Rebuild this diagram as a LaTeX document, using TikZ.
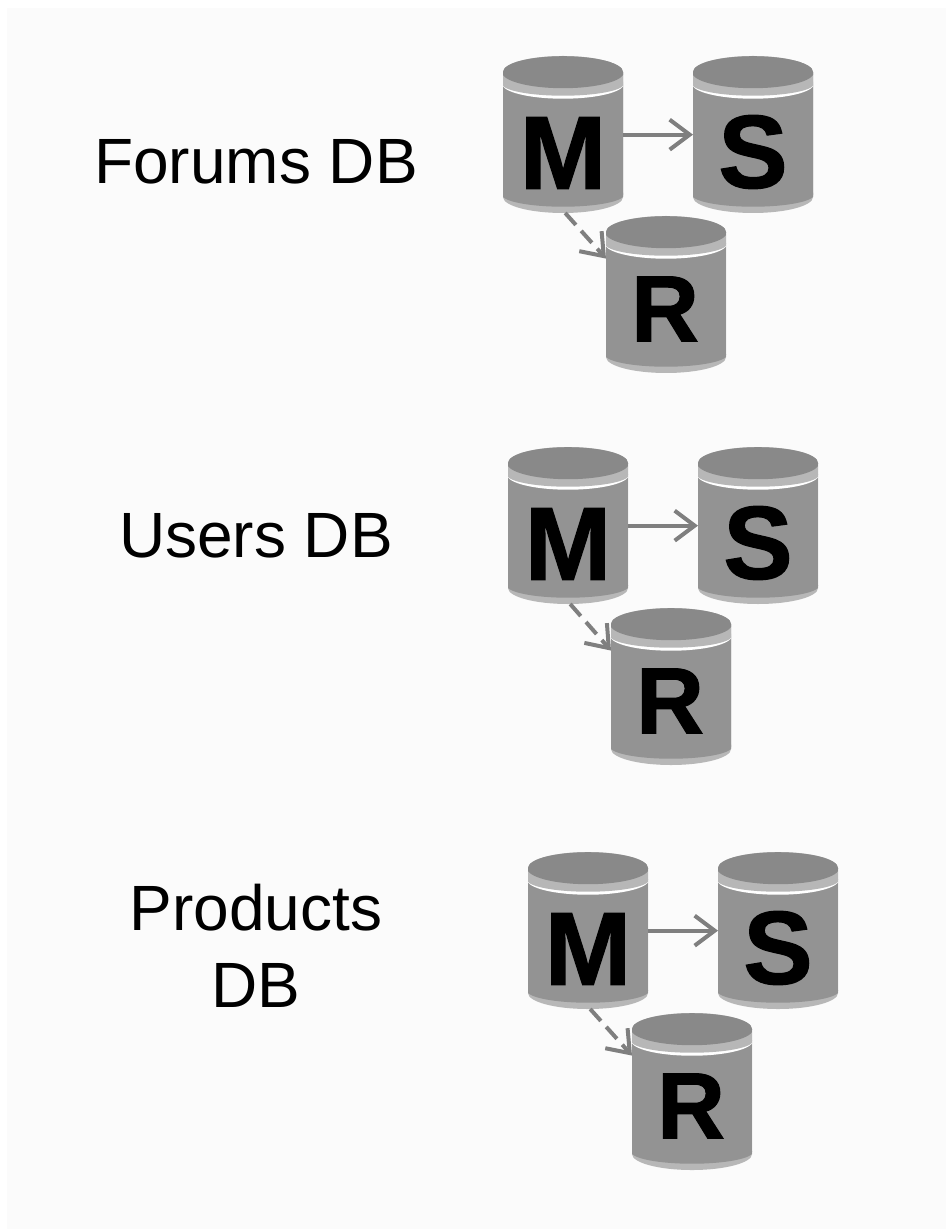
\documentclass[tikz,border=0pt]{standalone}
\usepackage{fontspec}
\setmainfont{Liberation Sans}
\newfontfamily\heavyfont[BoldFeatures={FakeBold=1.2}]{Liberation Sans}
\usetikzlibrary{shapes.geometric,arrows.meta}
\definecolor{dbtop}{HTML}{898989}
\definecolor{dbbody}{HTML}{939393}
\definecolor{dbrim}{HTML}{B7B7B7}
\definecolor{dbarrow}{HTML}{7F7F7F}
\definecolor{paper}{HTML}{FBFBFB}
\begin{document}
\begin{tikzpicture}[x=0.5pt,y=-0.5pt]
\tikzstyle{dbcyl}=[cylinder,shape border rotate=90,shape aspect=0.267,minimum width=60pt,minimum height=78.5pt,
  inner sep=30pt,outer sep=0pt,fill=dbrim,anchor=shape center,
  path picture={
    \begin{scope}[shift={(path picture bounding box.center)},x=0.5pt,y=-0.5pt]
    \fill[dbbody] (-61,-67) rectangle (61,44);
    \fill[dbbody] (0,44) ellipse [x radius=61,y radius=12];
    \fill[white] (0,-67) ellipse [x radius=61,y radius=15];
    \fill[dbrim] (-61,-78.5) rectangle (61,-67);
    \fill[dbrim] (0,-67) ellipse [x radius=61,y radius=12];
    \fill[dbtop] (0,-78.5) ellipse [x radius=61,y radius=16];
    \end{scope}}]
\tikzstyle{bigletter}=[inner sep=0pt,font=\fontsize{52pt}{52pt}\heavyfont\bfseries]
\tikzstyle{smallletter}=[inner sep=0pt,font=\fontsize{47pt}{47pt}\heavyfont\bfseries]
\tikzstyle{dblabel}=[inner sep=0pt,align=center,font=\fontsize{32pt}{38.5pt}\selectfont]
\tikzstyle{link}=[draw=dbarrow,line width=2pt,-{Straight Barb[length=10pt,width=15pt,line width=2pt]}]
\tikzstyle{replica}=[link,dash pattern=on 8pt off 4pt]
\node[fill=white,inner sep=0pt,minimum width=473pt,minimum height=614.5pt] (page) at (473,614.5) {};
\node[fill=paper,inner sep=0pt,minimum width=469.5pt,minimum height=610.5pt] (sheet) at (476.5,618.5) {};
% forums
\node[dblabel] (forums) at (256,162) {Forums DB};
\node[dbcyl] (m1) at (563,134.5) {};
\node[dbcyl] (s1) at (753,134.5) {};
\node[dbcyl] (r1) at (666,294.5) {};
\node[bigletter] (m1t) at (563,153) {M};
\node[bigletter] (s1t) at (753,152) {S};
\node[smallletter] (r1t) at (665,309) {R};
% users
\node[dblabel] (users) at (256,536) {Users DB};
\node[dbcyl] (m2) at (568,525.5) {};
\node[dbcyl] (s2) at (758,525.5) {};
\node[dbcyl] (r2) at (671,686.5) {};
\node[bigletter] (m2t) at (568,544) {M};
\node[bigletter] (s2t) at (758,543) {S};
\node[smallletter] (r2t) at (670,701) {R};
% products
\node[dblabel] (products) at (256,946) {Products\\DB};
\node[dbcyl] (m3) at (588,930.5) {};
\node[dbcyl] (s3) at (778,930.5) {};
\node[dbcyl] (r3) at (692,1091.5) {};
\node[bigletter] (m3t) at (588,949) {M};
\node[bigletter] (s3t) at (778,948) {S};
\node[smallletter] (r3t) at (691,1106) {R};
\draw[link] (m1.15) -- (s1.165);
\draw[link] (m2.15) -- (s2.165);
\draw[link] (m3.15) -- (s3.165);
\draw[replica] (m1.-88) -- (r1.139);
\draw[replica] (m2.-88) -- (r2.139);
\draw[replica] (m3.-88) -- (r3.139);
\end{tikzpicture}
\end{document}
